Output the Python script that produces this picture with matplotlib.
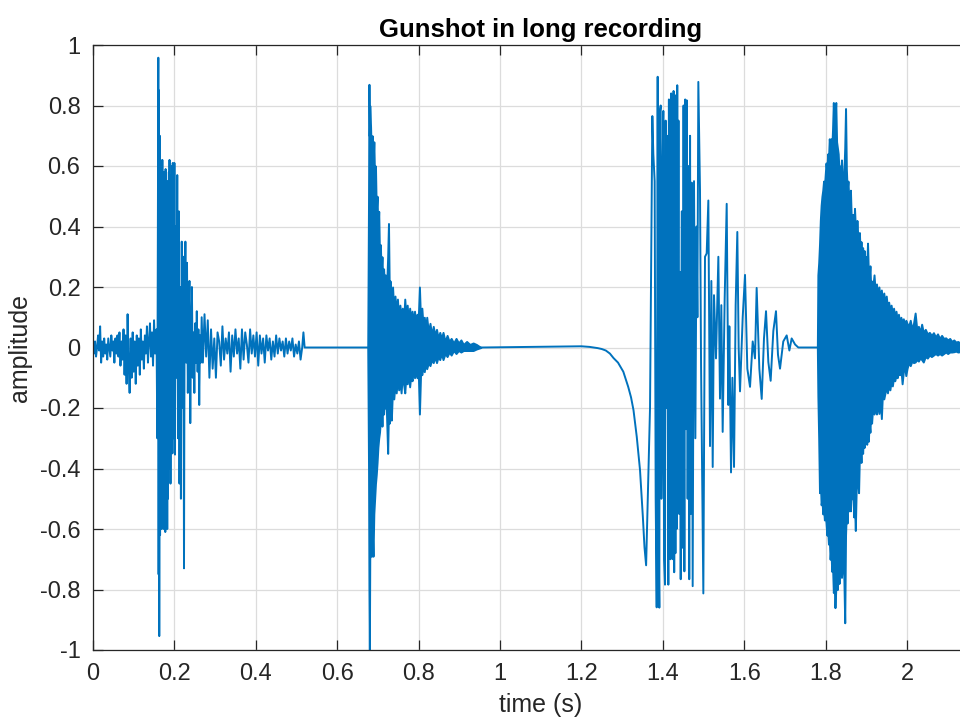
"""
Gunshot in long recording - waveform recreated from read-off values
"""
import numpy as np
import matplotlib
matplotlib.use('Agg')
import matplotlib.pyplot as plt

########## first shot: noise, burst, tail (0 - 0.52 s) ##########
t_pre = [0.0000, 0.0025, 0.0050, 0.0075, 0.0100, 0.0125, 0.0150, 0.0175, 0.0200, 0.0225,
         0.0250, 0.0275, 0.0300, 0.0325, 0.0350, 0.0375, 0.0400, 0.0425, 0.0450, 0.0475,
         0.0500, 0.0525, 0.0550, 0.0575, 0.0600, 0.0625, 0.0650, 0.0675, 0.0700, 0.0725,
         0.0750, 0.0775, 0.0800, 0.0825, 0.0850, 0.0875, 0.0900, 0.0925, 0.0950, 0.0975,
         0.1000, 0.1025, 0.1050, 0.1075, 0.1100, 0.1125, 0.1150, 0.1175, 0.1200, 0.1225,
         0.1250, 0.1275, 0.1300, 0.1325, 0.1350, 0.1375, 0.1400, 0.1425, 0.1450, 0.1475,
         0.1500, 0.1525, 0.1550]
a_pre = [0.01, -0.02, 0.02, -0.03, 0.00, 0.04, -0.01, 0.07, -0.05, 0.02,
         -0.03, 0.03, -0.02, 0.01, -0.04, 0.03, 0.00, -0.03, 0.04, -0.01,
         0.02, -0.05, 0.03, -0.02, 0.04, -0.03, 0.05, -0.06, 0.02, -0.04,
         0.06, -0.09, 0.04, -0.12, 0.11, -0.05, -0.15, 0.03, -0.10, 0.05,
         -0.08, 0.02, -0.12, 0.04, -0.06, 0.03, -0.09, 0.06, -0.04, 0.02,
         -0.07, 0.04, -0.02, 0.07, -0.05, 0.02, 0.08, -0.03, 0.05, -0.06,
         0.09, -0.02, 0.05]

t_burst1 = [0.1560, 0.1580, 0.1595, 0.1605, 0.1612, 0.1620, 0.1628,
            0.1640, 0.1648, 0.1656, 0.1664, 0.1672, 0.1680, 0.1688, 0.1696, 0.1704, 0.1712,
            0.1720, 0.1728, 0.1736, 0.1744, 0.1752, 0.1760, 0.1768, 0.1776, 0.1784, 0.1792,
            0.1800, 0.1808, 0.1816, 0.1824, 0.1832, 0.1840, 0.1848, 0.1856, 0.1864, 0.1872,
            0.1880, 0.1888, 0.1896, 0.1904, 0.1912, 0.1920, 0.1928, 0.1936, 0.1944, 0.1952,
            0.1960, 0.1968, 0.1976, 0.1984, 0.1992, 0.2000,
            0.2015, 0.2030, 0.2050, 0.2070, 0.2090, 0.2110, 0.2125, 0.2140, 0.2160, 0.2180,
            0.2200, 0.2220, 0.2236, 0.2250, 0.2270, 0.2290, 0.2310, 0.2330, 0.2350, 0.2370,
            0.2390, 0.2410, 0.2430, 0.2450, 0.2470, 0.2490, 0.2510, 0.2530, 0.2550, 0.2570,
            0.2590, 0.2610, 0.2630, 0.2650, 0.2670]
a_burst1 = [0.06, -0.30, 0.40, 0.958, -0.75, 0.85, -0.954,
            0.70, -0.62, 0.62, -0.58, 0.60, -0.60, 0.55, -0.45, 0.62, -0.58,
            0.58, -0.60, 0.50, -0.55, 0.58, -0.40, 0.45, -0.61, 0.59, -0.58,
            0.52, -0.55, 0.30, -0.60, 0.55, -0.50, 0.45, -0.20, 0.58, -0.40,
            0.62, -0.35, 0.55, -0.45, 0.50, -0.30, 0.57, -0.25, 0.60, -0.35,
            0.61, -0.30, 0.50, -0.20, -0.25, 0.61,
            -0.354, 0.40, -0.10, 0.57, -0.30, 0.45, -0.45, 0.20, -0.50, 0.35,
            -0.20, 0.30, -0.73, 0.10, 0.35, -0.05, 0.28, -0.15, 0.10, 0.22,
            -0.25, 0.05, 0.20, -0.10, 0.05, -0.15, 0.08, -0.05, 0.12, -0.08,
            0.06, -0.19, 0.04, -0.05, 0.10]

t_tail1 = [0.270, 0.274, 0.278, 0.282, 0.286, 0.290, 0.294, 0.298, 0.302, 0.306,
           0.310, 0.314, 0.318, 0.322, 0.326, 0.330, 0.334, 0.338, 0.342, 0.346,
           0.350, 0.354, 0.358, 0.362, 0.366, 0.370, 0.374, 0.378, 0.382, 0.386,
           0.390, 0.394, 0.398, 0.402, 0.406, 0.410, 0.414, 0.418, 0.422, 0.426,
           0.430, 0.434, 0.438, 0.442, 0.446, 0.450, 0.454, 0.458, 0.462, 0.466,
           0.470, 0.474, 0.478, 0.482, 0.486, 0.490, 0.494, 0.498, 0.502, 0.506,
           0.510, 0.514, 0.517, 0.520, 0.675]
a_tail1 = [-0.05, 0.11, -0.03, 0.09, -0.10, 0.06, -0.07, 0.03, -0.10, 0.05,
           0.02, -0.06, 0.07, -0.04, 0.03, -0.02, 0.05, -0.08, 0.04, -0.03,
           0.06, -0.02, 0.03, -0.07, 0.06, -0.04, 0.05, 0.01, -0.05, 0.06,
           -0.02, 0.04, -0.03, 0.05, -0.06, 0.04, -0.02, 0.03, -0.05, 0.04,
           -0.01, 0.03, -0.04, 0.02, -0.03, 0.04, -0.02, 0.03, -0.01, 0.02,
           -0.03, 0.03, -0.02, 0.02, -0.01, 0.03, -0.03, 0.01, -0.02, 0.02,
           -0.04, 0.00, 0.05, 0.00, 0.00]

########## second shot: dense burst envelope (0.675 - 0.95 s) ##########
t_env2 = [0.675, 0.677, 0.678, 0.679, 0.680, 0.682, 0.684, 0.686, 0.688, 0.690,
          0.692, 0.694, 0.696, 0.698, 0.700, 0.702, 0.704, 0.706, 0.708, 0.710,
          0.712, 0.714, 0.716, 0.718, 0.720, 0.722, 0.724, 0.726, 0.728, 0.730,
          0.733, 0.736, 0.739, 0.742, 0.745, 0.748, 0.751, 0.754, 0.757, 0.760,
          0.763, 0.766, 0.769, 0.772, 0.775, 0.778, 0.781, 0.784, 0.787, 0.790,
          0.793, 0.796, 0.799, 0.802, 0.805, 0.808, 0.811, 0.814, 0.817, 0.820,
          0.824, 0.828, 0.832, 0.836, 0.840, 0.844, 0.848, 0.852, 0.856, 0.860,
          0.865, 0.870, 0.875, 0.880, 0.886, 0.892, 0.898, 0.904, 0.910, 0.918,
          0.926, 0.934, 0.942, 0.953]
up_env2 = [0.00, 0.50, 0.87, 0.70, 0.80, 0.73, 0.62, 0.70, 0.60, 0.68,
           0.55, 0.60, 0.45, 0.50, 0.38, 0.45, 0.30, 0.34, 0.25, 0.30,
           0.22, 0.26, 0.20, 0.24, 0.17, 0.22, 0.30, 0.41, 0.18, 0.22,
           0.14, 0.20, 0.12, 0.17, 0.11, 0.16, 0.09, 0.14, 0.10, 0.13,
           0.08, 0.16, 0.10, 0.14, 0.08, 0.13, 0.09, 0.12, 0.08, 0.12,
           0.07, 0.11, 0.09, 0.20, 0.08, 0.13, 0.07, 0.10, 0.06, 0.10,
           0.05, 0.08, 0.04, 0.07, 0.04, 0.06, 0.03, 0.05, 0.03, 0.05,
           0.02, 0.04, 0.02, 0.03, 0.015, 0.03, 0.015, 0.025, 0.01, 0.02,
           0.01, 0.015, 0.01, 0.00]
lo_env2 = [0.00, -0.40, -0.80, -1.02, -0.70, -0.64, -0.69, -0.60, -0.69, -0.55,
           -0.50, -0.45, -0.42, -0.38, -0.33, -0.30, -0.28, -0.24, -0.20, -0.26,
           -0.19, -0.22, -0.16, -0.20, -0.17, -0.26, -0.35, -0.20, -0.25, -0.18,
           -0.24, -0.13, -0.17, -0.12, -0.15, -0.10, -0.14, -0.11, -0.15, -0.09,
           -0.12, -0.15, -0.09, -0.12, -0.08, -0.13, -0.09, -0.11, -0.07, -0.10,
           -0.08, -0.10, -0.07, -0.22, -0.08, -0.09, -0.06, -0.08, -0.05, -0.07,
           -0.05, -0.06, -0.04, -0.05, -0.03, -0.05, -0.03, -0.04, -0.02, -0.04,
           -0.02, -0.03, -0.015, -0.025, -0.01, -0.02, -0.01, -0.015, -0.01, -0.01,
           -0.01, -0.01, -0.005, 0.00]

########## third event: slow dip and large swings (1.2 - 1.78 s) ##########
t_dip = [0.953, 1.200, 1.210, 1.220, 1.230, 1.240, 1.250, 1.260, 1.270, 1.279,
         1.290, 1.303, 1.315, 1.322, 1.328, 1.336, 1.344, 1.351, 1.355, 1.359]
a_dip = [0.000, 0.004, 0.003, 0.002, 0.000, -0.002, -0.005, -0.010, -0.020, -0.035,
         -0.050, -0.080, -0.130, -0.165, -0.207, -0.295, -0.405, -0.560, -0.660, -0.720]

t_swing = [1.3686, 1.3743, 1.3767, 1.3800, 1.3825, 1.3850, 1.3874, 1.3895, 1.3915, 1.3930,
           1.3948, 1.3965, 1.3980, 1.3995, 1.4013, 1.4030, 1.4054, 1.4070, 1.4085, 1.4100,
           1.4115, 1.4136, 1.4150, 1.4165, 1.4177, 1.4190, 1.4205, 1.4220, 1.4235, 1.4250,
           1.4265, 1.4280, 1.4295, 1.4310, 1.4325, 1.4340, 1.4355, 1.4370, 1.4385, 1.4400,
           1.4420, 1.4440, 1.4465, 1.4490, 1.4510, 1.4530, 1.4550, 1.4570, 1.4590, 1.4610,
           1.4630, 1.4650, 1.4670, 1.4690, 1.4710, 1.4734, 1.4767, 1.4800, 1.4830, 1.4850,
           1.4873, 1.4914, 1.4940, 1.4996, 1.5037, 1.5078, 1.5119, 1.5160, 1.5193, 1.5226,
           1.5258, 1.5307, 1.5365, 1.5405, 1.5438, 1.5471, 1.5520, 1.5570, 1.5610, 1.5635,
           1.5676, 1.5710, 1.5750, 1.5790, 1.5831, 1.5864, 1.5897, 1.5963, 1.6020, 1.6077,
           1.6143, 1.6209, 1.6265, 1.6306, 1.6372, 1.6430, 1.6486, 1.6536, 1.6593, 1.6650,
           1.6716, 1.6781, 1.6830, 1.6880, 1.6960, 1.7044, 1.7110, 1.7166, 1.7250, 1.7330,
           1.7797]
a_swing = [-0.20, 0.765, 0.64, 0.55, -0.50, -0.859, 0.895, -0.60, -0.86, 0.78,
           0.80, -0.50, -0.30, 0.60, 0.782, -0.70, -0.784, 0.75, -0.20, 0.70,
           0.20, -0.784, 0.82, -0.60, 0.80, -0.70, 0.84, -0.45, 0.80, -0.70,
           0.848, -0.743, 0.83, -0.68, 0.834, -0.60, 0.867, -0.464, 0.75, -0.55,
           0.25, -0.766, 0.45, -0.662, 0.80, -0.74, 0.82, -0.27, 0.817, -0.50,
           0.60, -0.766, 0.70, -0.55, 0.545, -0.789, 0.55, -0.30, 0.40, 0.10,
           0.878, 0.521, -0.06, -0.813, 0.30, 0.311, 0.486, -0.326, 0.22, -0.395,
           0.173, -0.036, 0.30, -0.169, 0.14, -0.279, 0.16, 0.475, -0.19, 0.07,
           -0.413, -0.10, -0.395, 0.14, 0.382, 0.00, -0.145, 0.10, 0.24, -0.07,
           -0.13, 0.02, -0.036, 0.197, -0.07, -0.17, 0.03, 0.12, -0.048, -0.11,
           0.055, 0.12, -0.024, -0.07, 0.02, 0.04, -0.01, 0.03, 0.01, 0.00,
           0.00]

########## fourth shot: dense decaying envelope (1.78 - 2.13 s) ##########
t_env4 = [1.7797, 1.7810, 1.7830, 1.7850, 1.7870, 1.7890, 1.7910, 1.7930, 1.7950, 1.7970,
          1.7990, 1.8010, 1.8030, 1.8050, 1.8070, 1.8090, 1.8110, 1.8130, 1.8150, 1.8170,
          1.8190, 1.8210, 1.8230, 1.8250, 1.8270, 1.8290, 1.8310, 1.8330, 1.8350, 1.8370,
          1.8390, 1.8410, 1.8430, 1.8450, 1.8470, 1.8490, 1.8510, 1.8530, 1.8550, 1.8570,
          1.8590, 1.8610, 1.8630, 1.8650, 1.8670, 1.8690, 1.8710, 1.8730, 1.8750, 1.8770,
          1.8790, 1.8810, 1.8830, 1.8850, 1.8870, 1.8890, 1.8910, 1.8930, 1.8950, 1.8970,
          1.8990, 1.9010, 1.9030, 1.9050, 1.9070, 1.9090, 1.9110, 1.9130, 1.9160, 1.9190,
          1.9220, 1.9250, 1.9280, 1.9310, 1.9340, 1.9370, 1.9400, 1.9430, 1.9460, 1.9490,
          1.9520, 1.9550, 1.9580, 1.9610, 1.9640, 1.9670, 1.9700, 1.9730, 1.9760, 1.9790,
          1.9820, 1.9850, 1.9880, 1.9910, 1.9940, 1.9970, 2.0000, 2.0040, 2.0080, 2.0120,
          2.0160, 2.0200, 2.0240, 2.0280, 2.0320, 2.0360, 2.0400, 2.0450, 2.0500, 2.0550,
          2.0600, 2.0650, 2.0700, 2.0750, 2.0800, 2.0850, 2.0900, 2.0950, 2.1000, 2.1050,
          2.1100, 2.1150, 2.1200, 2.1250, 2.1300]
up_env4 = [0.00, 0.24, 0.28, 0.34, 0.42, 0.47, 0.50, 0.52, 0.55, 0.53,
           0.57, 0.61, 0.58, 0.64, 0.62, 0.69, 0.66, 0.69, 0.65, 0.72,
           0.81, 0.70, 0.76, 0.81, 0.68, 0.66, 0.64, 0.58, 0.60, 0.55,
           0.62, 0.56, 0.52, 0.58, 0.66, 0.79, 0.59, 0.52, 0.55, 0.49,
           0.46, 0.52, 0.43, 0.40, 0.44, 0.38, 0.46, 0.40, 0.36, 0.42,
           0.37, 0.34, 0.38, 0.31, 0.35, 0.30, 0.33, 0.29, 0.32, 0.27,
           0.30, 0.26, 0.345, 0.25, 0.23, 0.27, 0.19, 0.22, 0.20, 0.24,
           0.18, 0.21, 0.17, 0.20, 0.16, 0.19, 0.15, 0.18, 0.14, 0.17,
           0.13, 0.15, 0.12, 0.14, 0.11, 0.13, 0.10, 0.12, 0.09, 0.11,
           0.08, 0.10, 0.08, 0.095, 0.07, 0.09, 0.08, 0.07, 0.09, 0.06,
           0.08, 0.114, 0.06, 0.07, 0.05, 0.077, 0.05, 0.06, 0.045, 0.05,
           0.04, 0.049, 0.035, 0.045, 0.03, 0.04, 0.03, 0.032, 0.025, 0.03,
           0.02, 0.025, 0.018, 0.02, 0.015]
lo_env4 = [0.00, -0.16, -0.30, -0.48, -0.44, -0.52, -0.50, -0.55, -0.53, -0.57,
           -0.55, -0.58, -0.62, -0.60, -0.65, -0.63, -0.70, -0.66, -0.74, -0.72,
           -0.81, -0.78, -0.86, -0.80, -0.76, -0.80, -0.72, -0.78, -0.70, -0.71,
           -0.76, -0.72, -0.68, -0.77, -0.91, -0.62, -0.54, -0.58, -0.50, -0.54,
           -0.52, -0.54, -0.46, -0.50, -0.47, -0.56, -0.52, -0.605, -0.48, -0.44,
           -0.40, -0.48, -0.36, -0.33, -0.38, -0.31, -0.35, -0.29, -0.33, -0.30,
           -0.28, -0.32, -0.26, -0.31, -0.25, -0.28, -0.21, -0.25, -0.19, -0.22,
           -0.20, -0.22, -0.18, -0.218, -0.16, -0.235, -0.14, -0.17, -0.15, -0.13,
           -0.15, -0.12, -0.14, -0.11, -0.127, -0.10, -0.11, -0.09, -0.10, -0.08,
           -0.09, -0.07, -0.12, -0.08, -0.06, -0.093, -0.07, -0.05, -0.06, -0.045,
           -0.05, -0.048, -0.04, -0.045, -0.035, -0.04, -0.048, -0.03, -0.035, -0.025,
           -0.03, -0.025, -0.02, -0.025, -0.02, -0.025, -0.02, -0.015, -0.02, -0.015,
           -0.015, -0.014, -0.012, -0.015, -0.014]

xticks = [0, 0.2, 0.4, 0.6, 0.8, 1, 1.2, 1.4, 1.6, 1.8, 2]
xticklabels = ['0', '0.2', '0.4', '0.6', '0.8', '1', '1.2', '1.4', '1.6', '1.8', '2']
yticks = [-1, -0.8, -0.6, -0.4, -0.2, 0, 0.2, 0.4, 0.6, 0.8, 1]
yticklabels = ['-1', '-0.8', '-0.6', '-0.4', '-0.2', '0', '0.2', '0.4', '0.6', '0.8', '1']

########## plot ##########
plt.rcParams['font.family'] = ['Liberation Sans', 'DejaVu Sans']
blue = '#0072BD'
lw = 1.4

fig = plt.figure(figsize=(9.6, 7.22), dpi=100)
ax = fig.add_axes([93/960, 72/722, 895.4/960, 605/722])

# sparse parts as polylines
ax.plot(t_pre + t_burst1 + t_tail1, a_pre + a_burst1 + a_tail1, color=blue, lw=lw)
ax.plot(t_dip + t_swing, a_dip + a_swing, color=blue, lw=lw)

# dense parts as filled envelopes
ax.fill_between(t_env2, lo_env2, up_env2, color=blue, lw=lw, edgecolor=blue)
ax.fill_between(t_env4, lo_env4, up_env4, color=blue, lw=lw, edgecolor=blue)

ax.set_xlim(0, 2.2)
ax.set_ylim(-1, 1)
ax.set_xticks(xticks)
ax.set_xticklabels(xticklabels)
ax.set_yticks(yticks)
ax.set_yticklabels(yticklabels)
ax.grid(True, color='#dcdcdc', lw=0.9)
ax.set_axisbelow(True)
ax.tick_params(direction='in', length=7, width=0.9, labelsize=17,
               top=True, right=True, colors='#262626', pad=9)
for sp in ax.spines.values():
    sp.set_color('#262626')
    sp.set_linewidth(0.9)

ax.set_xlabel('time (s)', fontsize=18, color='#262626', labelpad=6)
ax.set_ylabel('amplitude', fontsize=18, color='#262626', labelpad=6)
ax.set_title('Gunshot in long recording', fontsize=18.5, fontweight='bold', pad=6)

fig.savefig('out.png', dpi=100)
